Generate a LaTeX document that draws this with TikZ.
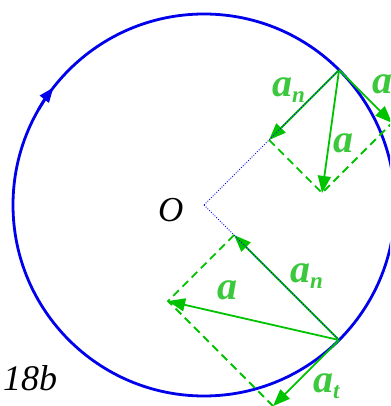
\documentclass[tikz,border=0pt]{standalone}
\usepackage{fontspec}
\setmainfont{Liberation Serif}
\usetikzlibrary{arrows.meta,calc}
\definecolor{arrowgreen}{RGB}{0,195,0}
\definecolor{labelgreen}{RGB}{60,200,60}
\definecolor{circblue}{RGB}{0,0,235}
\tikzset{
  vec/.style={draw=arrowgreen, line width=1.8pt, -{Triangle[length=17pt,width=13pt]}},
  comp/.style={draw=arrowgreen, line width=1.9pt, dash pattern=on 8pt off 5pt},
  radius line/.style={draw=circblue, line width=0.9pt, dash pattern=on 0.9pt off 1.6pt},
  lbl/.style={text=labelgreen, inner sep=0pt, anchor=base west, font=\fontsize{40}{40}\selectfont\bfseries\itshape},
  blk/.style={text=black, inner sep=0pt, anchor=base west, font=\fontsize{35}{35}\selectfont\itshape}
}
\newcommand{\vsub}[1]{\raisebox{-6pt}{\fontsize{23}{23}\selectfont #1}}
\begin{document}
\begin{tikzpicture}[x=1pt,y=1pt]
\useasboundingbox (0,0) rectangle (390,406);
\clip (0,0) rectangle (390,406);
\coordinate (O) at (204,201);
% points on the circle
\coordinate (P1) at ($(O)+(45:191)$);
\coordinate (P2) at ($(O)+(-45:191)$);
% upper vectors
\coordinate (N1) at ($(P1)+(-70,-70)$);
\coordinate (T1) at ($(P1)+(53,-53)$);
\coordinate (A1) at ($(P1)+(-17,-123)$);
% lower vectors
\coordinate (N2) at ($(P2)+(-105,105)$);
\coordinate (T2) at ($(P2)+(-66,-66)$);
\coordinate (A2) at ($(P2)+(-171,39)$);
% circle
\draw[circblue, line width=2.8pt] (O) circle (191);
\draw[circblue, line width=2.8pt, -{Triangle[length=15pt,width=11pt]}] ($(O)+(150:191)$) arc (150:142:191);
% components (dashed)
\draw[comp] (N1) -- (A1) -- (T1);
\draw[comp] (N2) -- (A2) -- (T2);
% vectors
\draw[vec] (P1) -- (N1);
\draw[vec] (P1) -- (T1);
\draw[vec] (P1) -- (A1);
\draw[vec] (P2) -- (N2);
\draw[vec] (P2) -- (T2);
\draw[vec] (P2) -- (A2);
% radius lines
\draw[radius line] (O) -- (P1);
\draw[radius line] (O) -- (P2);
% labels
\node[lbl] (ln1) at (272,309) {a\vsub{n}};
\node[lbl] (la1) at (333,253) {a};
\node[lbl] (lt1) at (372,312) {a};
\node[lbl] (ln2) at (290,123) {a\vsub{n}};
\node[lbl] (la2) at (217,106) {a};
\node[lbl] (lt2) at (313,13) {a\vsub{t}};
\node[blk] (lO) at (158,184) {O};
\node[blk, font=\fontsize{36}{36}\selectfont\itshape] (lfig) at (3,16) {18b};
\end{tikzpicture}
\end{document}
